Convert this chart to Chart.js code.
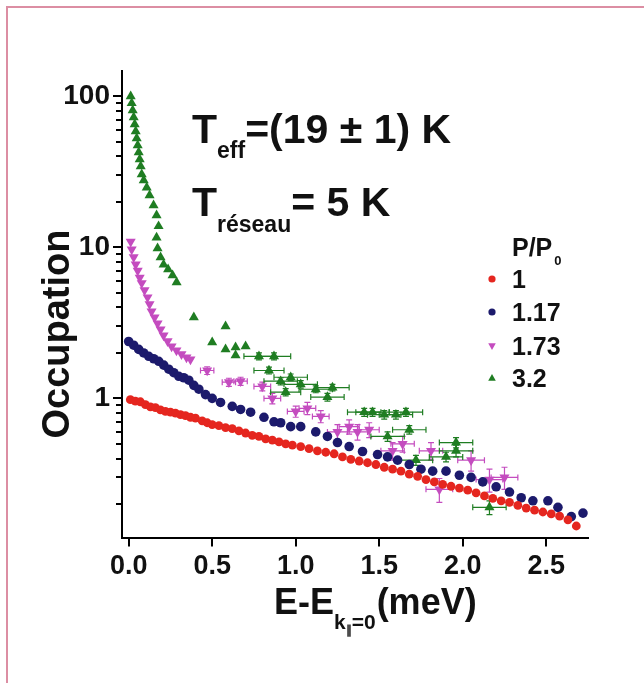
<!DOCTYPE html>
<html>
<head>
<meta charset="utf-8">
<script src="https://cdn.jsdelivr.net/npm/chart.js@4.4.1/dist/chart.umd.min.js"></script>
<style>
  html, body { margin: 0; padding: 0; background: #fff; }
  #wrap { position: relative; width: 644px; height: 683px; overflow: hidden; }
  #frame { position: absolute; left: 6px; top: 6px; right: -10px; bottom: -10px;
           border-left: 2px solid #dc8ea3; border-top: 2px solid #dc8ea3; pointer-events: none; }
  canvas { position: absolute; left: 0; top: 0; }
</style>
</head>
<body>
<div id="wrap">
  <canvas id="c" width="644" height="683"></canvas>
  <div id="frame"></div>
</div>
<script>
// ---- data: occupation vs E - E(k=0), one series per excitation power P/P0 ----
const seriesNames = ['1', '1.17', '1.73', '3.2'];

const redX = [0.01,0.04,0.07,0.10,0.13,0.16,0.19,0.22,0.25,0.28,0.31,0.34,0.37,0.40,0.44,0.47,0.50,0.54,0.58,0.62,
  0.66,0.70,0.74,0.78,0.82,0.86,0.90,0.94,0.98,1.03,1.08,1.13,1.18,1.23,1.28,1.33,1.38,1.43,1.48,1.53,
  1.58,1.63,1.68,1.73,1.78,1.83,1.88,1.93,1.98,2.03,2.08,2.13,2.18,2.23,2.28,2.33,2.38,2.43,2.48,2.53,
  2.58,2.63,2.68];
const redY = [0.98,0.96,0.95,0.91,0.88,0.87,0.84,0.82,0.81,0.80,0.78,0.77,0.75,0.74,0.71,0.69,0.67,0.66,0.64,0.63,
  0.61,0.59,0.57,0.56,0.54,0.53,0.515,0.50,0.49,0.48,0.465,0.45,0.44,0.43,0.41,0.395,0.385,0.375,0.365,0.35,
  0.34,0.33,0.315,0.305,0.29,0.28,0.27,0.262,0.255,0.247,0.237,0.226,0.218,0.21,0.205,0.196,0.188,0.182,0.177,0.172,
  0.166,0.157,0.143];

const navyX = [0.00,0.03,0.06,0.09,0.12,0.15,0.18,0.21,0.24,0.27,0.30,0.33,0.36,0.39,0.42,0.46,0.50,0.55,0.62,0.67,
  0.73,0.81,0.87,0.91,0.97,1.03,1.12,1.19,1.25,1.32,1.40,1.49,1.55,1.61,1.68,1.75,1.82,1.90,1.98,2.05,
  2.12,2.20,2.28,2.35,2.42,2.51,2.57,2.65,2.72];
const navyY = [2.38,2.25,2.11,2.00,1.90,1.83,1.76,1.66,1.56,1.48,1.40,1.37,1.32,1.22,1.15,1.06,1.00,0.94,0.885,0.845,
  0.81,0.75,0.70,0.69,0.65,0.65,0.60,0.56,0.51,0.48,0.445,0.425,0.41,0.39,0.365,0.34,0.33,0.33,0.31,0.30,
  0.28,0.26,0.24,0.22,0.21,0.21,0.19,0.165,0.174];

const magX = [0.012,0.018,0.030,0.042,0.054,0.066,0.078,0.095,0.113,0.125,0.137,0.155,0.173,0.191,0.209,0.233,0.257,0.286,0.316,0.346,
  0.370,0.47,0.60,0.67,0.80,0.86,1.00,1.07,1.15,1.25,1.32,1.37,1.44,1.58,1.64,1.81,1.86,2.05,2.16,2.25];
const magY = [10.9,9.7,8.6,7.7,7.0,6.3,5.8,5.2,4.67,4.2,3.77,3.44,3.14,2.86,2.61,2.39,2.21,2.08,1.96,1.87,
  1.81,1.53,1.28,1.30,1.20,1.00,0.82,0.86,0.76,0.60,0.65,0.60,0.62,0.45,0.50,0.45,0.25,0.39,0.29,0.30];
const magXErr = [0,0,0,0,0,0,0,0,0,0,0,0,0,0,0,0,0,0,0,0,
  0,0.04,0.04,0.04,0.05,0.05,0.05,0.05,0.05,0.06,0.06,0.06,0.06,0.07,0.07,0.07,0.08,0.08,0.08,0.08];
const magYErr = [0,0,0,0,0,0,0,0,0,0,0,0,0,0,0,0,0,0,0,0,
  0,0.09,0.08,0.08,0.08,0.08,0.07,0.08,0.07,0.07,0.07,0.07,0.07,0.06,0.06,0.06,0.045,0.06,0.05,0.05];

const greenX = [0.012,0.018,0.024,0.030,0.036,0.042,0.048,0.054,0.060,0.066,0.072,0.078,0.090,0.108,0.125,0.149,0.167,0.179,0.167,0.173,
  0.191,0.209,0.236,0.263,0.287,0.39,0.58,0.50,0.58,0.64,0.70,0.64,0.78,0.87,0.84,0.91,0.97,1.03,0.94,1.12,
  1.22,1.19,1.41,1.46,1.53,1.60,1.66,1.55,1.68,1.72,1.90,1.96,1.96,2.16];
const greenY = [100,90,80.8,72.6,65.3,58.6,52.7,47.3,42.6,38.3,34.4,30.4,27.8,24.9,22.1,19.0,16.3,13.8,11.6,9.85,
  8.6,7.7,7.15,6.53,5.86,3.44,3.0,2.35,2.11,2.18,2.21,1.93,1.90,1.90,1.53,1.30,1.38,1.24,1.10,1.15,
  1.18,1.02,0.81,0.81,0.78,0.78,0.81,0.56,0.62,0.39,0.41,0.51,0.45,0.19];
const greenXErr = [0,0,0,0,0,0,0,0,0,0,0,0,0,0,0,0,0,0,0,0,
  0,0,0,0,0,0,0,0,0,0,0,0,0.09,0.10,0.09,0.10,0.10,0.10,0.09,0.10,
  0.10,0.10,0.10,0.10,0.10,0.10,0.10,0.10,0.10,0.10,0.10,0.10,0.10,0.10];
const greenYErr = [0,0,0,0,0,0,0,0,0,0,0,0,0,0,0,0,0,0,0,0,
  0,0,0,0,0,0,0,0,0,0,0,0,0.10,0.10,0.08,0.07,0.07,0.07,0.06,0.06,
  0.06,0.06,0.05,0.05,0.05,0.05,0.05,0.04,0.04,0.03,0.03,0.04,0.04,0.02];

const xTicks = [0, 0.5, 1.0, 1.5, 2.0, 2.5];
const yTicks = [1, 10, 100];
const yMinorTicks = [0.2,0.3,0.4,0.5,0.6,0.7,0.8,0.9, 2,3,4,5,6,7,8,9, 20,30,40,50,60,70,80,90];

const colors = ['#e5261f', '#1c1a6c', '#c44cbf', '#1f7d22'];
const FONT = "'Liberation Sans', Arial, Helvetica, sans-serif";

function pts(xs, ys) { return xs.map((x, i) => ({ x: x, y: ys[i] })); }

// ---- error bars for the high-energy points, placed through the chart scales ----
const errorBars = {
  id: 'errorBars',
  beforeDatasetsDraw(chart) {
    const { ctx, scales: { x, y } } = chart;
    ctx.save();
    ctx.lineWidth = 1.2;
    chart.data.datasets.forEach((ds) => {
      if (!ds.xErr) return;
      ctx.strokeStyle = ds.backgroundColor;
      ds.data.forEach((p, i) => {
        const px = x.getPixelForValue(p.x), py = y.getPixelForValue(p.y);
        const xe = ds.xErr[i], ye = ds.yErr[i];
        ctx.beginPath();
        if (xe > 0) {
          const x1 = x.getPixelForValue(p.x - xe), x2 = x.getPixelForValue(p.x + xe);
          ctx.moveTo(x1, py); ctx.lineTo(x2, py);
          ctx.moveTo(x1, py - 3); ctx.lineTo(x1, py + 3);
          ctx.moveTo(x2, py - 3); ctx.lineTo(x2, py + 3);
        }
        if (ye > 0) {
          const y1 = y.getPixelForValue(p.y - ye), y2 = y.getPixelForValue(p.y + ye);
          ctx.moveTo(px, y1); ctx.lineTo(px, y2);
          ctx.moveTo(px - 3, y1); ctx.lineTo(px + 3, y1);
          ctx.moveTo(px - 3, y2); ctx.lineTo(px + 3, y2);
        }
        ctx.stroke();
      });
    });
    ctx.restore();
  }
};

// ---- short minor ticks on the log axis ----
const minorTicks = {
  id: 'minorTicks',
  afterDraw(chart) {
    const { ctx, scales: { y } } = chart;
    ctx.save();
    ctx.strokeStyle = '#000';
    ctx.lineWidth = 2;
    ctx.beginPath();
    yMinorTicks.forEach((v) => {
      if (v < y.min || v > y.max) return;
      const py = Math.round(y.getPixelForValue(v));
      ctx.moveTo(y.right - 6, py); ctx.lineTo(y.right, py);
    });
    ctx.stroke();
    ctx.restore();
  }
};

// ---- axis titles, temperature labels and legend ----
function runs(ctx, x, parts) {
  parts.forEach((p) => {
    ctx.font = 'bold ' + p.size + 'px ' + FONT;
    ctx.fillText(p.t, x, p.y);
    x += ctx.measureText(p.t).width + (p.gap || 0);
  });
  return x;
}

function marker(ctx, style, cx, cy, r) {
  ctx.beginPath();
  if (style === 'circle') {
    ctx.arc(cx, cy, r, 0, Math.PI * 2);
  } else {
    const dir = style === 'down' ? -1 : 1;
    ctx.moveTo(cx, cy - dir * r * 1.1);
    ctx.lineTo(cx + r * 1.05, cy + dir * r * 0.75);
    ctx.lineTo(cx - r * 1.05, cy + dir * r * 0.75);
    ctx.closePath();
  }
  ctx.fill();
}

const labels = {
  id: 'labels',
  afterDraw(chart) {
    const ctx = chart.ctx;
    ctx.save();
    ctx.fillStyle = '#111';
    ctx.textAlign = 'left';
    ctx.textBaseline = 'alphabetic';

    // y title
    ctx.save();
    ctx.translate(59, 334);
    ctx.rotate(-Math.PI / 2);
    ctx.textAlign = 'center';
    ctx.textBaseline = 'middle';
    ctx.font = 'bold 38px ' + FONT;
    ctx.fillText('Occupation', 0, 0);
    ctx.restore();

    // x title: E-E_{k∥=0}(meV)
    runs(ctx, 274, [
      { t: 'E-E', size: 36, y: 614 },
      { t: 'k', size: 21, y: 629 },
      { t: '\u2225', size: 12, y: 634 },
      { t: '=0', size: 21, y: 629, gap: 1 },
      { t: '(meV)', size: 36, y: 614 }
    ]);

    // temperatures
    runs(ctx, 192, [
      { t: 'T', size: 41, y: 143 },
      { t: 'eff', size: 23, y: 158 },
      { t: '=(19 \u00b1 1) K', size: 41, y: 143 }
    ]);
    runs(ctx, 192, [
      { t: 'T', size: 41, y: 216 },
      { t: 'réseau', size: 23, y: 232 },
      { t: '= 5 K', size: 41, y: 216 }
    ]);

    // legend
    runs(ctx, 512, [
      { t: 'P/P', size: 25, y: 256, gap: 2 },
      { t: '0', size: 13, y: 265 }
    ]);
    const rows = [279, 312, 346, 378];
    const styles = ['circle', 'circle', 'down', 'up'];
    seriesNames.forEach((name, i) => {
      ctx.fillStyle = colors[i];
      marker(ctx, styles[i], 492, rows[i], 3.6);
      ctx.fillStyle = '#111';
      ctx.font = 'bold 25px ' + FONT;
      ctx.fillText(name, 512, rows[i] + 9);
    });
    ctx.restore();
  }
};

const ctx = document.getElementById('c').getContext('2d');
new Chart(ctx, {
  type: 'scatter',
  data: {
    datasets: [
      { label: seriesNames[0], data: pts(redX, redY), backgroundColor: colors[0], borderColor: colors[0],
        pointStyle: 'circle', pointRadius: 4.4, borderWidth: 0 },
      { label: seriesNames[1], data: pts(navyX, navyY), backgroundColor: colors[1], borderColor: colors[1],
        pointStyle: 'circle', pointRadius: 4.8, borderWidth: 0 },
      { label: seriesNames[2], data: pts(magX, magY), backgroundColor: colors[2], borderColor: colors[2],
        pointStyle: 'triangle', rotation: 180, pointRadius: 5.8, borderWidth: 0, xErr: magXErr, yErr: magYErr },
      { label: seriesNames[3], data: pts(greenX, greenY), backgroundColor: colors[3], borderColor: colors[3],
        pointStyle: 'triangle', pointRadius: 5.8, borderWidth: 0, xErr: greenXErr, yErr: greenYErr }
    ]
  },
  options: {
    responsive: false,
    animation: false,
    events: [],
    layout: { padding: { left: 0, top: 71, right: 56, bottom: 0 } },
    plugins: { legend: { display: false }, tooltip: { enabled: false } },
    scales: {
      x: {
        type: 'linear', min: -0.04, max: 2.75,
        afterFit(s) { s.height = 145.5; },
        afterBuildTicks(s) { s.ticks = xTicks.map((v) => ({ value: v })); },
        border: { display: true, color: '#000', width: 2 },
        grid: { display: true, drawOnChartArea: false, drawTicks: true, tickLength: 9, color: '#000', lineWidth: 2 },
        ticks: { color: '#111', padding: 4, maxRotation: 0, autoSkip: false,
                 font: { family: FONT, weight: 'bold', size: 27 },
                 callback: (v) => Number(v).toFixed(1) }
      },
      y: {
        type: 'logarithmic', min: 0.12, max: 147,
        afterFit(s) { s.width = 122; },
        afterBuildTicks(s) { s.ticks = yTicks.map((v) => ({ value: v })); },
        border: { display: true, color: '#000', width: 2 },
        grid: { display: true, drawOnChartArea: false, drawTicks: true, tickLength: 9, color: '#000', lineWidth: 2 },
        ticks: { color: '#111', padding: 3, autoSkip: false,
                 font: { family: FONT, weight: 'bold', size: 28 },
                 callback: (v) => String(v) }
      }
    }
  },
  plugins: [errorBars, minorTicks, labels]
});
</script>
</body>
</html>
